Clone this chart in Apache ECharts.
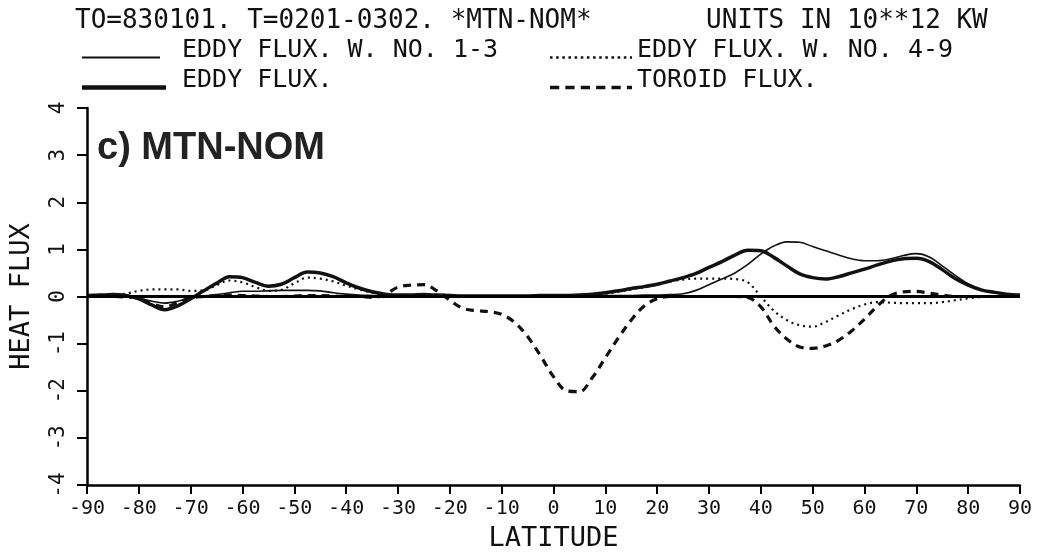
<!DOCTYPE html>
<html>
<head>
<meta charset="utf-8">
<script src="https://cdn.jsdelivr.net/npm/echarts@6/dist/echarts.min.js"></script>
<style>html,body{margin:0;padding:0;background:#fff}#c{width:1040px;height:557px}</style>
</head>
<body>
<div id="c"></div>
<script>
var lats = [-90,-87.5,-85,-82.5,-80,-77.5,-75,-72.5,-70,-67.5,-65,-62.5,-60,-57.5,-55,-52.5,-50,-47.5,-45,-42.5,-40,-37.5,-35,-32.5,-30,-27.5,-25,-22.5,-20,-17.5,-15,-12.5,-10,-7.5,-5,-2.5,0,2.5,5,7.5,10,12.5,15,17.5,20,22.5,25,27.5,30,32.5,35,37.5,40,42.5,45,47.5,50,52.5,55,57.5,60,62.5,65,67.5,70,72.5,75,77.5,80,82.5,85,87.5,90];

var eddyW13 = [0,0.01,0.01,0,-0.04,-0.1,-0.14,-0.1,-0.03,0.01,0.04,0.08,0.11,0.11,0.12,0.13,0.13,0.13,0.12,0.08,0.05,0.03,0.02,0.01,0.01,0.01,0.01,0.01,0.01,0.01,0.01,0.01,0.01,0.01,0.01,0.01,
  0.01,0.01,0.01,0.02,0.02,0.02,0.02,0.03,0.03,0.04,0.06,0.13,0.25,0.37,0.5,0.68,0.9,1.07,1.16,1.15,1.06,0.97,0.88,0.8,0.76,0.76,0.8,0.87,0.91,0.84,0.65,0.45,0.27,0.15,0.08,0.04,0.02];

var eddyW49 = [0,0,0.02,0.06,0.12,0.15,0.15,0.15,0.12,0.13,0.24,0.34,0.3,0.2,0.12,0.14,0.28,0.4,0.38,0.32,0.23,0.15,0.08,0.03,0.01,0,0,0,0,0,0,0,0,0,0,0.01,
  0.01,0.01,0.02,0.03,0.06,0.1,0.15,0.2,0.25,0.32,0.36,0.38,0.38,0.38,0.37,0.3,0.0,-0.3,-0.5,-0.61,-0.64,-0.54,-0.4,-0.27,-0.17,-0.12,-0.13,-0.14,-0.14,-0.14,-0.12,-0.08,-0.04,-0.01,0,0,0];

var eddyTotal = [0.02,0.03,0.04,0.02,-0.05,-0.18,-0.28,-0.2,-0.05,0.12,0.28,0.42,0.4,0.3,0.22,0.26,0.4,0.52,0.5,0.42,0.29,0.18,0.1,0.05,0.03,0.03,0.04,0.03,0.02,0.01,0.01,0.01,0.01,0.01,0.01,0.02,
  0.02,0.02,0.03,0.05,0.08,0.12,0.17,0.21,0.26,0.33,0.4,0.49,0.62,0.74,0.88,0.98,0.97,0.83,0.65,0.48,0.4,0.37,0.42,0.5,0.58,0.67,0.75,0.8,0.81,0.74,0.57,0.38,0.24,0.14,0.09,0.05,0.03];

var toroid = [0,0,0,-0.01,-0.04,-0.15,-0.22,-0.13,-0.03,0,0.02,0.03,0.02,0.01,0,0,0.01,0.02,0.02,0.01,0,0,-0.02,0.04,0.2,0.24,0.25,0.12,-0.08,-0.25,-0.3,-0.32,-0.38,-0.55,-0.85,-1.26,
  -1.7,-2.0,-2.02,-1.72,-1.3,-0.88,-0.5,-0.2,-0.05,0,0,0,0,0,0,-0.02,-0.22,-0.62,-0.9,-1.07,-1.1,-1.05,-0.93,-0.73,-0.48,-0.2,0.02,0.1,0.11,0.07,0.03,0,0,0,0,0,0];

var xTicks = [-90,-80,-70,-60,-50,-40,-30,-20,-10,0,10,20,30,40,50,60,70,80,90];
var yTicks = [-4,-3,-2,-1,0,1,2,3,4];

var names = ['EDDY FLUX. W. NO. 1-3', 'EDDY FLUX. W. NO. 4-9', 'EDDY FLUX.', 'TOROID FLUX.'];
var headerLeft = 'TO=830101. T=0201-0302. *MTN-NOM*';
var headerRight = 'UNITS IN 10**12 KW';
var panelTitle = 'c) MTN-NOM';

function pairs(v){ return lats.map(function(l,i){ return [l, v[i]]; }); }

// legend sample icons (pure styling)
function dashPath(on, off, total){
  var s = 'path://';
  for (var x = 0; x < total; x += on + off) {
    var w = Math.min(on, total - x);
    s += 'M' + x + ',0h' + w + 'v1h-' + w + 'z';
  }
  return s;
}
var ICON_SOLID = 'path://M0,0h80v1h-80z';
var ICON_DOT = dashPath(2.5, 3.5, 80);
var ICON_DASH = dashPath(9, 6, 80);

var MONO = '"DejaVu Sans Mono", "Liberation Mono", monospace';
var chart = echarts.init(document.getElementById('c'), null, {renderer:'canvas'});
function leg(name, left, top, icon, w, h, padL){
  return {data:[name], left:left, top:top, icon:icon, itemWidth:w, itemHeight:h, itemGap:0, padding:0,
    symbolKeepAspect:false, selectedMode:false,
    formatter: '{t|{name}}',
    textStyle: {fontFamily: MONO, fontSize: 25, color: '#111',
      rich: {t: {fontFamily: MONO, fontSize: 25, color:'#111', padding:[0,0,14,padL]}}},
    itemStyle:{color:'#111', borderWidth:0}};
}
chart.setOption({
  animation: false,
  backgroundColor: '#fff',
  title: [
    {text: headerLeft, left: 75, top: 8, padding:0, textStyle:{fontFamily:MONO, fontSize:26, fontWeight:'normal', color:'#111'}},
    {text: headerRight, left: 706, top: 8, padding:0, textStyle:{fontFamily:MONO, fontSize:26, fontWeight:'normal', color:'#111'}},
    {text: panelTitle, left: 97, top: 130, padding:0, textStyle:{fontFamily:'"Liberation Sans", Arial, sans-serif', fontSize:38, fontWeight:'bold', color:'#222'}}
  ],
  legend: [
    leg(names[0], 82, 38, ICON_SOLID, 78, 2, 17),
    leg(names[1], 550, 38, ICON_DOT, 82, 2.5, 0),
    leg(names[2], 82, 68, ICON_SOLID, 84, 4.5, 11),
    leg(names[3], 550, 68, ICON_DASH, 82, 3.5, 0)
  ],
  grid: {left: 73, right: 20, top: 108, bottom: 65, containLabel: false},
  xAxis: {
    type: 'value', min: xTicks[0], max: xTicks[xTicks.length-1], interval: 10,
    name: 'LATITUDE', nameLocation: 'middle', nameGap: 40,
    nameTextStyle: {fontFamily: MONO, fontSize: 27, color:'#111'},
    axisLine: {onZero:false, lineStyle:{color:'#000', width:2.5}},
    axisTick: {show:true, length:9, lineStyle:{color:'#000', width:2}},
    axisLabel: {margin: 14, fontFamily: MONO, fontSize: 20, color:'#111'},
    splitLine: {show:false}
  },
  yAxis: {
    type: 'value', min: yTicks[0], max: yTicks[yTicks.length-1], interval: 1,
    name: 'HEAT FLUX', nameLocation: 'middle', nameGap: 52, nameRotate: 90,
    nameTextStyle: {fontFamily: MONO, fontSize: 27, color:'#111'},
    axisLine: {onZero:false, lineStyle:{color:'#000', width:2.5}},
    axisTick: {show:true, length:10, lineStyle:{color:'#000', width:2}},
    axisLabel: {margin: 18, rotate: 90, fontFamily: MONO, fontSize: 21, color:'#111'},
    splitLine: {show:false}
  },
  series: [
    {name: names[0], type:'line', data: pairs(eddyW13), showSymbol:false, symbol:'none', smooth:0.35,
     lineStyle:{color:'#111', width:1.6, type:'solid'}, itemStyle:{color:'#111'},
     markLine:{silent:true, symbol:'none', label:{show:false}, lineStyle:{color:'#000', width:3, type:'solid'}, data:[{yAxis:0}]}},
    {name: names[1], type:'line', data: pairs(eddyW49), showSymbol:false, symbol:'none', smooth:0.35,
     lineStyle:{color:'#111', width:2.2, type:[2,4]}, itemStyle:{color:'#111'}},
    {name: names[2], type:'line', data: pairs(eddyTotal), showSymbol:false, symbol:'none', smooth:0.35,
     lineStyle:{color:'#111', width:3.5, type:'solid'}, itemStyle:{color:'#111'}},
    {name: names[3], type:'line', data: pairs(toroid), showSymbol:false, symbol:'none', smooth:0.35,
     lineStyle:{color:'#111', width:3.2, type:[8,6]}, itemStyle:{color:'#111'}}
  ]
});
</script>
</body>
</html>
